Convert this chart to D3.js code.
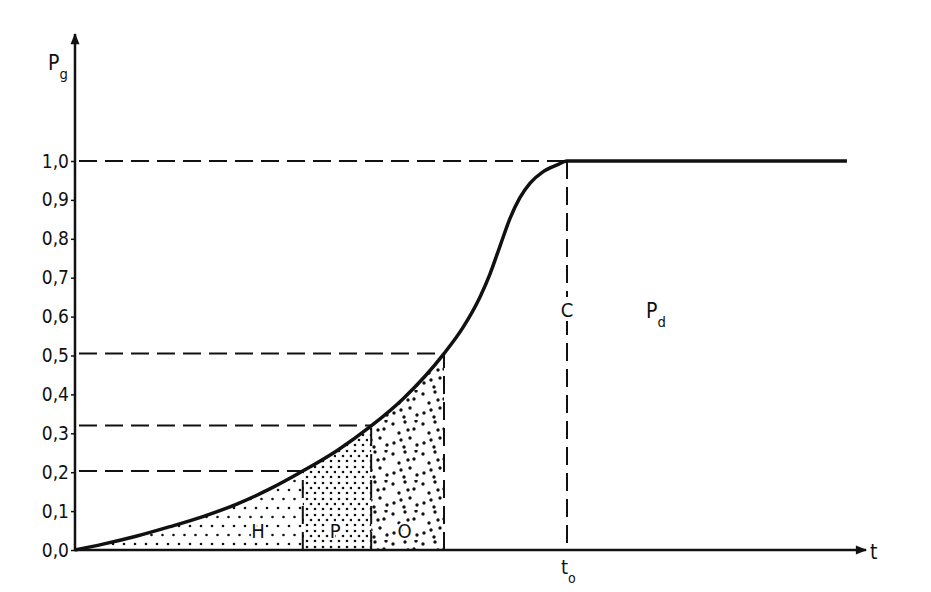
<!DOCTYPE html>
<meta charset="utf-8">
<html>
<head>
<style>
  body { margin: 0; background: #fff; }
  text { font-family: 'DejaVu Sans', sans-serif; font-stretch: condensed; fill: #111; }
  .dash { stroke: #111; stroke-width: 2; stroke-dasharray: 18 8; fill: none; }
</style>
</head>
<body>
<svg width="931" height="592"></svg>
<script src="https://cdn.jsdelivr.net/npm/d3@7"></script>
<script>
// curve (t in units of t0, P between 0 and 1)
var curveT = [0, 0.057, 0.126, 0.193, 0.260, 0.329, 0.396, 0.463, 0.533, 0.600, 0.667, 0.750,
              0.789, 0.823, 0.843, 0.864, 0.884, 0.904, 0.925, 0.951, 0.980, 1.0, 1.569];
var curveP = [0, 0.015, 0.036, 0.060, 0.086, 0.118, 0.157, 0.203, 0.256, 0.317, 0.389, 0.505,
              0.573, 0.650, 0.708, 0.782, 0.852, 0.905, 0.943, 0.972, 0.990, 1.0, 1.0];

var yTicks = [0, 0.1, 0.2, 0.3, 0.4, 0.5, 0.6, 0.7, 0.8, 0.9, 1.0];

// dashed guide levels and where they meet the curve
var levelP = [0.203, 0.32, 0.505, 1.0];
var levelT = [0.463, 0.602, 0.750, 1.0];

// shaded zones under the curve
var zoneNames = ["H", "P", "O"];
var zoneStart = [0, 0.463, 0.602];
var zoneEnd = [0.463, 0.602, 0.750];
var zoneLabelT = [0.372, 0.529, 0.67];

var t0 = 1.0;

var svg = d3.select("svg");

var x = d3.scaleLinear().domain([0, 1]).range([75, 567]);
var y = d3.scaleLinear().domain([0, 1]).range([550, 161]);

var pts = curveT.map(function(t, i) { return [t, curveP[i]]; });

var defs = svg.append("defs");

defs.append("marker")
    .attr("id", "arrow")
    .attr("viewBox", "0 0 10 10")
    .attr("refX", 9).attr("refY", 5)
    .attr("markerWidth", 6).attr("markerHeight", 4.5)
    .attr("markerUnits", "strokeWidth")
    .attr("orient", "auto")
  .append("path")
    .attr("d", "M0,1 L10,5 L0,9 Z")
    .attr("fill", "#111");

// dot textures
function dotPattern(id, w, h, dots, r) {
  var p = defs.append("pattern")
      .attr("id", id)
      .attr("patternUnits", "userSpaceOnUse")
      .attr("width", w).attr("height", h);
  dots.forEach(function(d) {
    p.append("circle").attr("cx", d[0]).attr("cy", d[1]).attr("r", r).attr("fill", "#111");
  });
}
dotPattern("dotsH", 22, 18, [[3, 4], [14, 4], [8.5, 13], [19.5, 13]], 1.3);
dotPattern("dotsP", 16, 16, [[3, 3], [11, 3], [7, 8], [15, 8], [3, 13], [11, 13]], 1.3);
dotPattern("dotsO", 30, 30, [[3, 4], [15, 2], [24, 9], [9, 13], [20, 18], [4, 23], [27, 25], [14, 27], [11, 20], [26, 1], [18, 10]], 1.7);

var area = d3.area()
    .x(function(d) { return x(d[0]); })
    .y0(y(0))
    .y1(function(d) { return y(d[1]); })
    .curve(d3.curveMonotoneX);

var patterns = ["dotsH", "dotsP", "dotsO"];
zoneNames.forEach(function(name, i) {
  defs.append("clipPath").attr("id", "clip" + i)
    .append("rect")
      .attr("x", x(zoneStart[i]))
      .attr("y", 0)
      .attr("width", x(zoneEnd[i]) - x(zoneStart[i]))
      .attr("height", y(0));
  svg.append("path")
      .datum(pts)
      .attr("d", area)
      .attr("fill", "url(#" + patterns[i] + ")")
      .attr("clip-path", "url(#clip" + i + ")");
});

// zone labels
svg.selectAll(".zone")
  .data(zoneNames)
  .enter().append("text")
    .attr("class", "zone")
    .attr("x", function(d, i) { return x(zoneLabelT[i]); })
    .attr("y", y(0) - 12)
    .attr("text-anchor", "middle")
    .attr("font-size", 20)
    .attr("stroke", "#fff").attr("stroke-width", 4).attr("paint-order", "stroke")
    .text(function(d) { return d; });

// horizontal guides
svg.selectAll(".hguide")
  .data(levelP)
  .enter().append("line")
    .attr("class", "dash")
    .attr("x1", x(0) + 4)
    .attr("x2", function(d, i) { return x(levelT[i]); })
    .attr("y1", function(d) { return y(d); })
    .attr("y2", function(d) { return y(d); });

// vertical guides at zone boundaries
svg.selectAll(".vguide")
  .data(levelT.slice(0, 3))
  .enter().append("line")
    .attr("class", "dash")
    .attr("stroke-dasharray", "14 6")
    .attr("x1", function(d) { return x(d); })
    .attr("x2", function(d) { return x(d); })
    .attr("y1", y(0))
    .attr("y2", function(d, i) { return y(levelP[i]); });

// vertical guide at t0
svg.append("line")
    .attr("class", "dash")
    .attr("stroke-dasharray", "22 9")
    .attr("x1", x(t0)).attr("x2", x(t0))
    .attr("y1", y(1)).attr("y2", y(0));

// curve
svg.append("path")
    .datum(pts)
    .attr("d", d3.line()
      .x(function(d) { return x(d[0]); })
      .y(function(d) { return y(d[1]); })
      .curve(d3.curveMonotoneX))
    .attr("fill", "none")
    .attr("stroke", "#111")
    .attr("stroke-width", 3.5);

// axes
var yAxis = d3.axisLeft(y)
    .tickValues(yTicks)
    .tickSize(4)
    .tickPadding(2)
    .tickFormat(function(d) { return d3.format(".1f")(d).replace(".", ","); });

var gy = svg.append("g")
    .attr("transform", "translate(" + x(0) + ",0)")
    .call(yAxis);
gy.select(".domain").remove();
gy.selectAll(".tick line").attr("stroke", "#111").attr("stroke-width", 1.5);
gy.selectAll(".tick text")
    .attr("font-family", "'DejaVu Sans', sans-serif")
    .attr("font-stretch", "condensed")
    .attr("font-size", 19)
    .attr("fill", "#111");

svg.append("line")
    .attr("x1", x(0)).attr("y1", y(0) + 1)
    .attr("x2", x(0)).attr("y2", 34)
    .attr("stroke", "#111").attr("stroke-width", 2.5)
    .attr("marker-end", "url(#arrow)");

svg.append("line")
    .attr("x1", x(0) - 1).attr("y1", y(0))
    .attr("x2", 866).attr("y2", y(0))
    .attr("stroke", "#111").attr("stroke-width", 2.5)
    .attr("marker-end", "url(#arrow)");

// labels
function subLabel(px, py, main, sub, size) {
  var t = svg.append("text")
      .attr("x", px).attr("y", py)
      .attr("font-size", size);
  t.append("tspan").text(main);
  t.append("tspan").attr("font-size", size * 0.7).attr("dy", size * 0.45).text(sub);
  return t;
}

subLabel(48, 70, "P", "g", 21);
subLabel(646, 318, "P", "d", 21);
subLabel(561, 574, "t", "o", 20);

svg.append("text")
    .attr("x", 870).attr("y", 559)
    .attr("font-size", 21)
    .text("t");

var cLabel = svg.append("g");
cLabel.append("rect")
    .attr("x", x(t0) - 7).attr("y", 297)
    .attr("width", 14).attr("height", 24)
    .attr("fill", "#fff");
cLabel.append("text")
    .attr("x", x(t0)).attr("y", 317)
    .attr("text-anchor", "middle")
    .attr("font-size", 20)
    .text("C");
</script>
</body>
</html>
